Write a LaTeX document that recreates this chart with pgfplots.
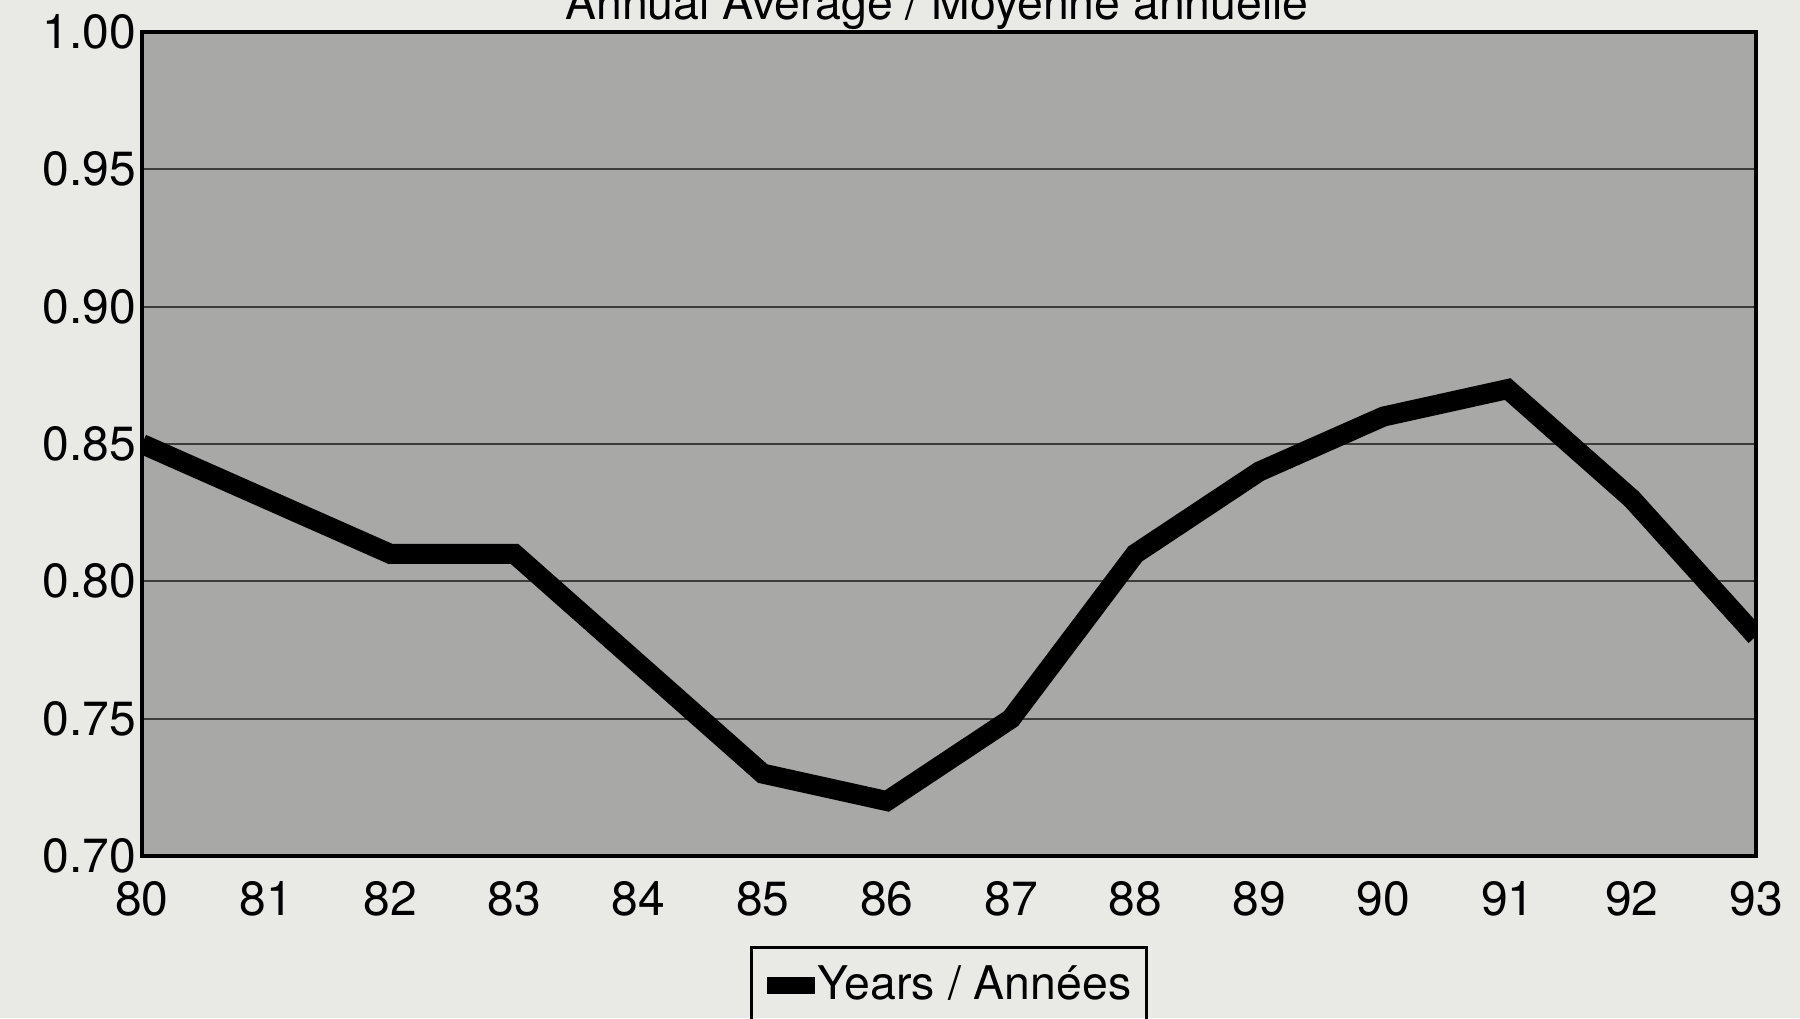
\documentclass[border=0pt]{standalone}
\usepackage{pgfplots}
\pgfplotsset{compat=1.18}
\usepackage{fontspec}
\setmainfont{TeX Gyre Heros}
\definecolor{pagebg}{RGB}{233,233,229}
\definecolor{plotbg}{RGB}{168,168,166}
\definecolor{gridc}{RGB}{60,60,60}
\begin{document}
\begin{tikzpicture}
\useasboundingbox (-35.5pt,-40.5pt) rectangle (414.5pt,214pt);
\clip (-35.5pt,-40.5pt) rectangle (414.5pt,214pt);
\fill[pagebg] (-35.5pt,-40.5pt) rectangle (414.5pt,214pt);
\begin{axis}[
  at={(0pt,0pt)}, anchor=south west,
  scale only axis, width=403.5pt, height=206pt,
  xmin=80, xmax=93, ymin=0.70, ymax=1.00,
  xtick={80,81,...,93},
  ytick={0.70,0.75,0.80,0.85,0.90,0.95,1.00},
  yticklabel style={/pgf/number format/fixed, /pgf/number format/fixed zerofill, /pgf/number format/precision=2, xshift=2pt},
  /pgf/number format/assume math mode=true,
  major tick length=0pt,
  tick label style={font=\fontsize{12}{14}\selectfont},
  xticklabel style={yshift=-2.75pt},
  ymajorgrids, grid style={gridc, line width=0.5pt},
  axis background/.style={fill=plotbg},
  axis line style={black, line width=0.8pt},
  clip=true,
  legend style={at={(0.5,0)}, anchor=north, yshift=-22.5pt, draw=black, line width=0.8pt, fill=none,
    font=\fontsize{11.6}{13}\selectfont, inner ysep=2.5pt, inner xsep=1.8pt,
    /tikz/every odd column/.append style={column sep=-3.4pt}},
  legend image code/.code={\draw[line width=4.2pt, line cap=butt, black] (0pt,0pt) -- (12pt,0pt);},
]
\addplot[black, line width=5pt, line join=miter] coordinates {
(80,0.85) (81,0.83) (82,0.81) (83,0.81) (84,0.77) (85,0.73) (86,0.72)
(87,0.75) (88,0.81) (89,0.84) (90,0.86) (91,0.87) (92,0.83) (93,0.78)
};
\addlegendentry{Years / Années}
\end{axis}
\node[anchor=base, font=\fontsize{11.6}{13}\selectfont] at (198.75pt,209.1pt) {Annual Average / Moyenne annuelle};
\end{tikzpicture}
\end{document}
